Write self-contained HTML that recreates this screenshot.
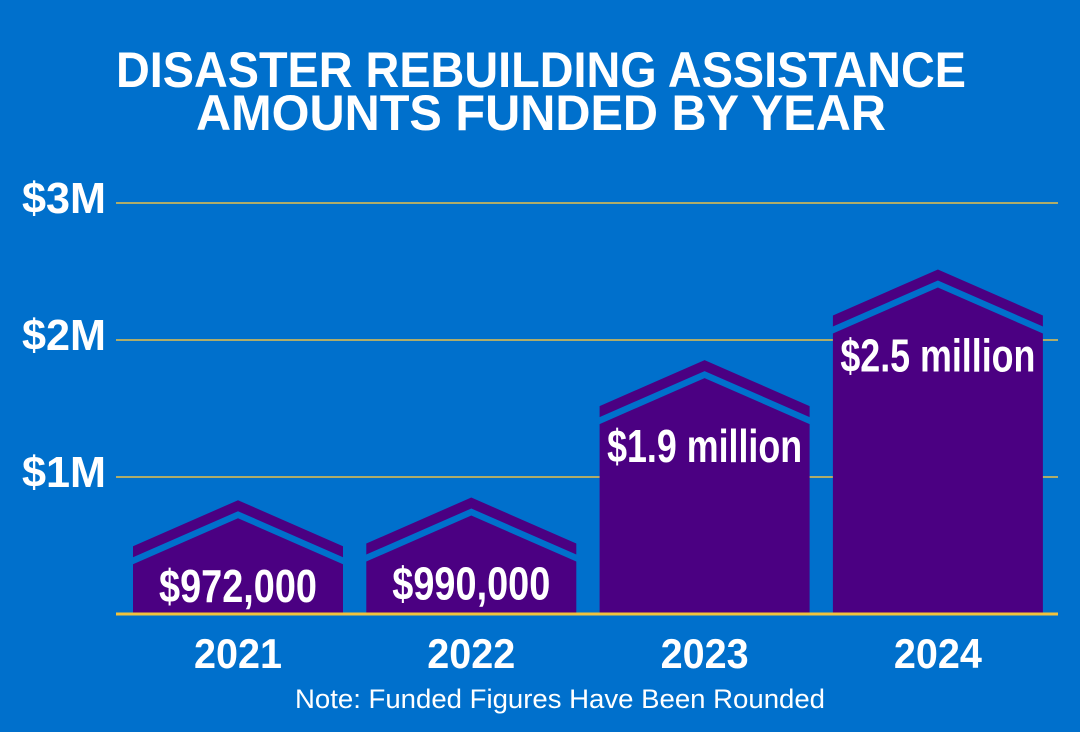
<!DOCTYPE html>
<html><head><meta charset="utf-8"><style>
html,body{margin:0;padding:0;background:#0070cc;}
svg{display:block;}
</style></head><body>
<svg width="1080" height="732" viewBox="0 0 1080 732" xmlns="http://www.w3.org/2000/svg">
<rect x="0" y="0" width="1080" height="732" fill="#0070cc"/>
<g font-family="'Liberation Sans', sans-serif" font-weight="bold" fill="#fff" text-anchor="middle">
<text x="541" y="87" font-size="50" textLength="850" lengthAdjust="spacingAndGlyphs">DISASTER REBUILDING ASSISTANCE</text>
<text x="541" y="130" font-size="50" textLength="690" lengthAdjust="spacingAndGlyphs">AMOUNTS FUNDED BY YEAR</text>
</g>
<g id="grid"></g>
<g id="bars"></g>
<g id="labels"></g>
<text x="560" y="708" font-family="'Liberation Sans', sans-serif" font-size="27" fill="#fff" text-anchor="middle" textLength="530" lengthAdjust="spacingAndGlyphs">Note: Funded Figures Have Been Rounded</text>
</svg>
<script>
const years = ['2021','2022','2023','2024'];
const amounts = [0.972, 0.99, 1.9, 2.5];
const amountLabels = ['$972,000','$990,000','$1.9 million','$2.5 million'];
const ticks = [1, 2, 3];
const tickLabels = ['$1M','$2M','$3M'];

const NS = 'http://www.w3.org/2000/svg';
const baseY = 614, pxPerM = 137;
function yAxis(v){ return baseY - v*pxPerM; }
// roof peak scale (visual)
function peakY(v){ return 647 - v*151; }
const plotL = 116, plotR = 1058, barW = 210, step = 233.3, firstX = 133;
function xBand(i){ return firstX + i*step; }

function mk(tag, attrs, parent){
  const e = document.createElementNS(NS, tag);
  for (const k in attrs) e.setAttribute(k, attrs[k]);
  parent.appendChild(e); return e;
}
const grid = document.getElementById('grid');
ticks.forEach((t,i)=>{
  const y = yAxis(t);
  const l = mk('line',{x1:plotL,x2:plotR,y1:y,y2:y,stroke:'#e8bf4a','stroke-width':1.5},grid);
  
  
  const t2 = mk('text',{x:22,y:y+10,'font-family':"'Liberation Sans', sans-serif",'font-weight':'bold','font-size':44,fill:'#fff',textLength:84,lengthAdjust:'spacingAndGlyphs'},grid);
  t2.textContent = tickLabels[i];
  
  
});
const bars = document.getElementById('bars');
const labels = document.getElementById('labels');
amounts.forEach((v,i)=>{
  const x0 = xBand(i), x1 = x0+barW, cx = x0+barW/2, P = peakY(v);
  const g = mk('g',{},bars);
  
  
  mk('polygon',{points:`${x0},${P+46} ${cx},${P} ${x1},${P+46} ${x1},${P+57} ${cx},${P+11} ${x0},${P+57}`,fill:'#4b0082'},g);
  mk('polygon',{points:`${x0},${P+64} ${cx},${P+18} ${x1},${P+64} ${x1},${baseY} ${x0},${baseY}`,fill:'#4b0082'},g);
  const tl = amountLabels[i];
  const w = tl.length>9 ? 195 : 158;
  const t = mk('text',{x:cx,y:P+102,'font-family':"'Liberation Sans Narrow','Liberation Sans', sans-serif",'font-weight':'bold','font-size':46,fill:'#fff','text-anchor':'middle',textLength:w,lengthAdjust:'spacingAndGlyphs'},labels);
  t.textContent = tl;
  
  
  const yl = mk('text',{x:cx,y:668,'font-family':"'Liberation Sans', sans-serif",'font-weight':'bold','font-size':42,fill:'#fff','text-anchor':'middle',textLength:88,lengthAdjust:'spacingAndGlyphs'},labels);
  yl.textContent = years[i];
  
  
});
const base = mk('line',{x1:plotL,x2:plotR,y1:baseY,y2:baseY,stroke:'#f2c23c','stroke-width':3},bars);


</script>
</body></html>
